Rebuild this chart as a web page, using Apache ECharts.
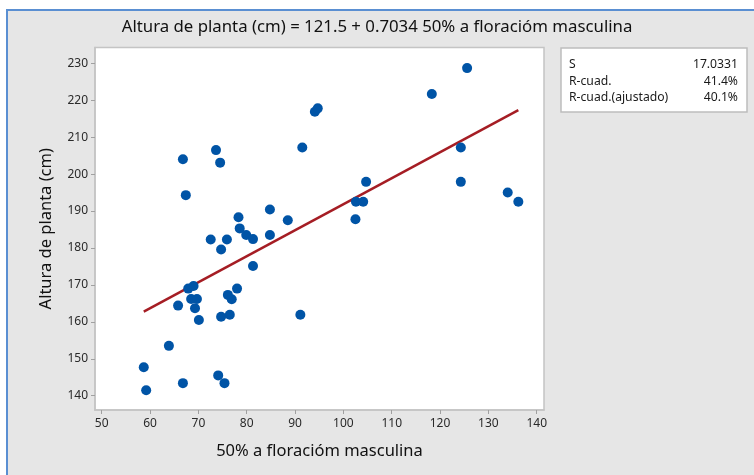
<!DOCTYPE html>
<html>
<head>
<meta charset="utf-8">
<script src="https://cdn.jsdelivr.net/npm/echarts@6/dist/echarts.min.js"></script>
<style>
  html, body { margin: 0; padding: 0; background: #ffffff; }
  #chart { width: 754px; height: 475px; }
</style>
</head>
<body>
<div id="chart"></div>
<script>
// Fitted line: plant height against days to 50% male flowering
const floracion = [
  94.1, 94.7, 66.8, 73.65, 74.5, 91.5, 67.4, 78.3, 78.55, 84.8,
  88.5, 79.9, 81.3, 84.8, 72.55, 75.9, 74.7, 81.3, 67.9, 69.0,
  78.0, 65.8, 68.5, 69.7, 69.3, 70.1, 76.1, 76.9, 74.7, 76.5,
  91.1, 63.9, 58.7, 59.2, 66.8, 74.1, 75.4, 125.6, 118.3, 124.3,
  124.3, 134.0, 136.2, 104.7, 102.6, 104.1, 102.5
];
const altura = [
  216.9, 217.8, 204.0, 206.5, 203.1, 207.2, 194.3, 188.3, 185.3, 190.4,
  187.5, 183.5, 182.4, 183.5, 182.3, 182.3, 179.6, 175.1, 169.0, 169.7,
  169.0, 164.4, 166.2, 166.2, 163.7, 160.5, 167.3, 166.1, 161.4, 161.9,
  161.9, 153.5, 147.7, 141.5, 143.4, 145.5, 143.4, 228.7, 221.7, 207.2,
  197.9, 195.0, 192.5, 197.9, 192.5, 192.5, 187.8
];

// Regression coefficients from the fitted equation
const intercepto = 121.5;
const pendiente = 0.7034;

const xTicks = [50, 60, 70, 80, 90, 100, 110, 120, 130, 140];
const yTicks = [140, 150, 160, 170, 180, 190, 200, 210, 220, 230];

const statLabels = ['S', 'R-cuad.', 'R-cuad.(ajustado)'];
const statValues = ['17.0331', '41.4%', '40.1%'];

const titulo = 'Altura de planta (cm) = 121.5 + 0.7034 50% a floracióm masculina';
const nombreX = '50% a floracióm masculina';
const nombreY = 'Altura de planta (cm)';

const puntos = floracion.map((x, i) => [x, altura[i]]);
const xMin = Math.min(...floracion);
const xMax = Math.max(...floracion);
const recta = [
  [xMin, intercepto + pendiente * xMin],
  [xMax, intercepto + pendiente * xMax]
];

const FONT = '"Noto Sans", "Open Sans", sans-serif';

// stats table drawn as graphic text
const statGraphics = [];
const boxLeft = 561, boxTop = 48, boxW = 186, boxH = 64;
statGraphics.push({
  type: 'rect', z: 5,
  shape: { x: boxLeft, y: boxTop, width: boxW, height: boxH },
  style: { fill: '#ffffff', stroke: '#bdbdbd', lineWidth: 1.5 }
});
statLabels.forEach((lab, i) => {
  const yy = boxTop + 17 + i * 16.3;
  statGraphics.push({
    type: 'text', z: 6,
    style: { text: lab, x: boxLeft + 8, y: yy, font: '12.2px ' + FONT, fill: '#1a1a1a',
             textAlign: 'left', textVerticalAlign: 'middle' }
  });
  statGraphics.push({
    type: 'text', z: 6,
    style: { text: statValues[i], x: boxLeft + boxW - 9, y: yy, font: '12.2px ' + FONT, fill: '#1a1a1a',
             textAlign: 'right', textVerticalAlign: 'middle' }
  });
});

const chart = echarts.init(document.getElementById('chart'), null, { renderer: 'canvas' });
chart.setOption({
  backgroundColor: '#ffffff',
  animation: false,
  title: {
    text: titulo,
    left: 'center',
    top: 14,
    textStyle: { fontFamily: FONT, fontSize: 16.8, fontWeight: 'normal', color: '#111111' }
  },
  graphic: [
    {
      type: 'rect', z: -100, silent: true,
      shape: { x: 7, y: 10, width: 760, height: 480 },
      style: { fill: '#e6e6e6', stroke: '#5a8fd2', lineWidth: 2 }
    }
  ].concat(statGraphics),
  grid: {
    left: 95, top: 47.5, right: 210, bottom: 65,
    show: true, backgroundColor: '#ffffff', borderColor: '#c4c4c4', borderWidth: 1.5
  },
  xAxis: {
    type: 'value',
    min: 48.61, max: 141.51,
    name: nombreX,
    nameLocation: 'middle',
    nameGap: 33,
    nameTextStyle: { fontFamily: FONT, fontSize: 16.5, color: '#111111' },
    axisLine: { show: true, lineStyle: { color: '#c4c4c4', width: 1.5 } },
    axisTick: { show: true, length: 4, customValues: xTicks, lineStyle: { color: '#a0a0a0' } },
    axisLabel: { customValues: xTicks, margin: 8, fontFamily: FONT, fontSize: 12, color: '#2a2a2a' },
    splitLine: { show: false }
  },
  yAxis: {
    type: 'value',
    min: 136.13, max: 234.28,
    name: nombreY,
    nameLocation: 'middle',
    nameGap: 40,
    nameTextStyle: { fontFamily: FONT, fontSize: 16.5, color: '#111111' },
    axisLine: { show: true, lineStyle: { color: '#c4c4c4', width: 1.5 } },
    axisTick: { show: true, length: 4, customValues: yTicks, lineStyle: { color: '#a0a0a0' } },
    axisLabel: { customValues: yTicks, margin: 7, fontFamily: FONT, fontSize: 12, color: '#2a2a2a' },
    splitLine: { show: false }
  },
  series: [
    {
      type: 'line',
      data: recta,
      showSymbol: false,
      lineStyle: { color: '#a51d24', width: 2.5 },
      z: 3
    },
    {
      type: 'scatter',
      data: puntos,
      symbol: 'circle',
      symbolSize: 10,
      itemStyle: { color: '#0054a6', opacity: 1 },
      z: 4
    }
  ]
});
</script>
</body>
</html>
